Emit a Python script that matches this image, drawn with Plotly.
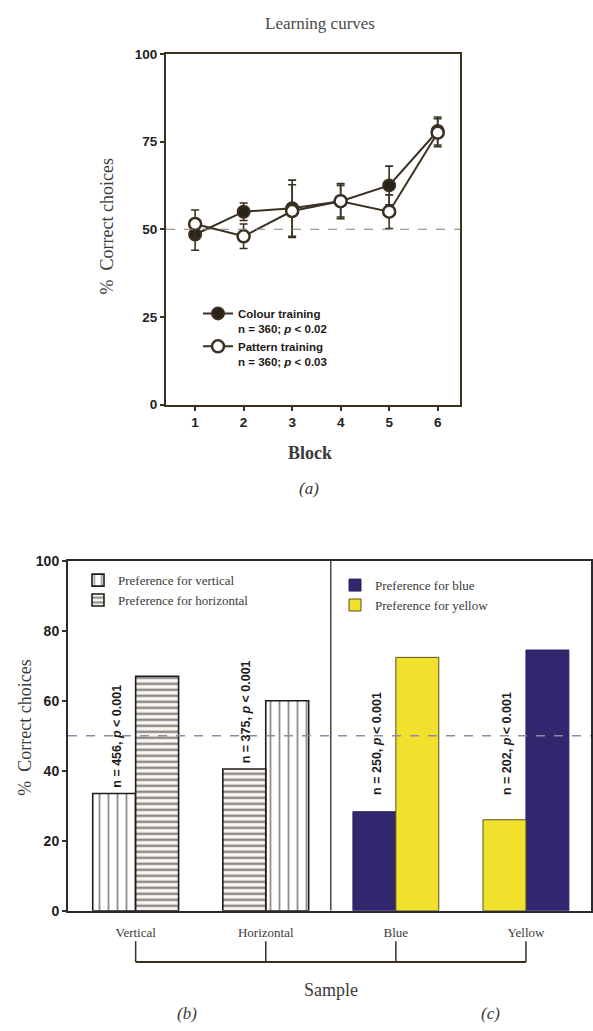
import plotly.graph_objects as go

# ---------------- data: panel (a) learning curves ----------------
blocks = [1, 2, 3, 4, 5, 6]
colour_mean = [48.5, 55.0, 56.0, 58.0, 62.5, 78.0]
colour_err = [4.5, 2.5, 8.0, 5.0, 5.5, 4.0]
pattern_mean = [51.5, 48.0, 55.2, 58.0, 55.0, 77.5]
pattern_err = [4.0, 3.5, 7.5, 4.5, 4.8, 4.0]
ticks_a = [0, 25, 50, 75, 100]
chance = 50

# ---------------- data: panels (b) and (c) ----------------
samples = ["Vertical", "Horizontal", "Blue", "Yellow"]
pattern_samples = ["Vertical", "Horizontal"]
colour_samples = ["Blue", "Yellow"]
pref_vertical = [33.5, 60.0]
pref_horizontal = [67.0, 40.5]
pref_blue = [28.3, 74.5]
pref_yellow = [72.4, 26.0]
n_values = [456, 375, 250, 202]
p_text = "0.001"
ticks_b = [0, 20, 40, 60, 80, 100]

W, H = 593, 1031
INK = "#3b3122"
TXT = "#3a3a3a"
NAVY = "#30276e"
YELLOW = "#f1e12c"
SERIF = "Liberation Serif"
SANS = "Liberation Sans"


def px_x(p):
    return p / W


def px_y(p):
    return 1 - p / H


fig = go.Figure()

# ---- panel (a) ----
fig.add_trace(go.Scatter(
    x=blocks, y=colour_mean, mode="lines+markers",
    name="Colour training<br>n = 360; <i>p</i> &lt; 0.02",
    line=dict(color=INK, width=2),
    marker=dict(symbol="circle", size=12, color="#2a2318", line=dict(color=INK, width=2)),
    error_y=dict(type="data", array=colour_err, color=INK, thickness=1.6, width=4),
    xaxis="x", yaxis="y", legend="legend",
))
fig.add_trace(go.Scatter(
    x=blocks, y=pattern_mean, mode="lines+markers",
    name="Pattern training<br>n = 360; <i>p</i> &lt; 0.03",
    line=dict(color=INK, width=2),
    marker=dict(symbol="circle", size=12, color="white", line=dict(color=INK, width=2.5)),
    error_y=dict(type="data", array=pattern_err, color=INK, thickness=1.6, width=4),
    xaxis="x", yaxis="y", legend="legend",
))

# ---- panels (b) and (c) ----
BW = 0.33
line_dark = dict(color="#1f1b18", width=1.6)
fig.add_trace(go.Bar(
    x=pattern_samples, y=pref_vertical, name="Preference for vertical",
    width=BW, offset=[-BW, 0],
    marker=dict(color="white", line=line_dark,
                pattern=dict(shape="|", size=9, solidity=0.2, fgcolor="#1f1b18", bgcolor="white")),
    xaxis="x2", yaxis="y2", legend="legend2",
))
fig.add_trace(go.Bar(
    x=pattern_samples, y=pref_horizontal, name="Preference for horizontal",
    width=BW, offset=[0, -BW],
    marker=dict(color="white", line=line_dark,
                pattern=dict(shape="-", size=6, solidity=0.42, fgcolor="#1f1a24", bgcolor="#fcf8f0")),
    xaxis="x2", yaxis="y2", legend="legend2",
))
fig.add_trace(go.Bar(
    x=colour_samples, y=pref_blue, name="Preference for blue",
    width=BW, offset=[-BW, 0],
    marker=dict(color=NAVY, line=dict(color="#2a2260", width=1)),
    xaxis="x2", yaxis="y2", legend="legend3",
))
fig.add_trace(go.Bar(
    x=colour_samples, y=pref_yellow, name="Preference for yellow",
    width=BW, offset=[0, -BW],
    marker=dict(color=YELLOW, line=dict(color="#5a5020", width=1)),
    xaxis="x2", yaxis="y2", legend="legend3",
))

shapes = []
shapes.append(dict(type="line", xref="x domain", yref="y", x0=0, x1=1, y0=chance, y1=chance,
                   line=dict(color="#8a8070", width=1.2, dash="dash")))
shapes.append(dict(type="line", xref="x2 domain", yref="y2", x0=0, x1=1, y0=chance, y1=chance,
                   line=dict(color="#8c8ca8", width=1.4, dash="dash")))
shapes.append(dict(type="line", xref="x2", yref="y2", x0=1.5, x1=1.5, y0=0, y1=100,
                   line=dict(color="#2a2a2a", width=1.3)))
y_top, y_bot = px_y(948), px_y(969)
for i in range(len(samples)):
    shapes.append(dict(type="line", xref="x2", yref="paper", x0=i, x1=i, y0=y_top, y1=y_bot,
                       line=dict(color=INK, width=1.5)))
shapes.append(dict(type="line", xref="x2", yref="paper", x0=0, x1=len(samples) - 1, y0=y_bot, y1=y_bot,
                   line=dict(color=INK, width=2)))

annotations = []
left_vals = [pref_vertical[0], pref_horizontal[1], pref_blue[0], pref_yellow[1]]
for i, (v, n) in enumerate(zip(left_vals, n_values)):
    annotations.append(dict(
        x=i - BW / 2, y=max(v + 1, 32.5), xref="x2", yref="y2",
        text=f"n = {n}, <i>p</i> &lt; {p_text}", textangle=-90, showarrow=False,
        xanchor="center", yanchor="bottom", xshift=2,
        font=dict(family=SANS, size=12.5, color="#1e1a16", weight="bold"),
    ))


def label(text, x, y, size=17, family=SERIF, color=TXT, angle=0):
    return dict(text=text, x=px_x(x), y=px_y(y), xref="paper", yref="paper",
                xanchor="center", yanchor="middle", textangle=angle, showarrow=False,
                font=dict(family=family, size=size, color=color))


annotations += [
    label("Learning curves", 320, 16, size=17, color="#4a4a4a"),
    label("%  Correct choices", 107, 222, size=18, angle=-90),
    label("<b>Block</b>", 310, 452, size=18),
    label("<i>(a)</i>", 309, 488, size=17),
    label("%  Correct choices", 25, 731, size=18, angle=-90),
    label("Sample", 331, 997, size=18),
    label("<i>(b)</i>", 187, 1021, size=17),
    label("<i>(c)</i>", 490, 1021, size=17),
]

tickfont_bold = dict(family=SANS, size=13.5, color="#222222", weight="bold")

fig.update_layout(
    width=W, height=H,
    margin=dict(l=0, r=0, t=0, b=0),
    paper_bgcolor="white", plot_bgcolor="white",
    barmode="overlay",
    shapes=shapes, annotations=annotations,
    xaxis=dict(domain=[px_x(166), px_x(460)], range=[0.4, 6.46], tickvals=blocks,
               showgrid=False, zeroline=False, showline=True, mirror=True,
               linecolor=INK, linewidth=2, ticks="outside", ticklen=4, tickwidth=1.5,
               tickcolor=INK, tickfont=tickfont_bold, anchor="y"),
    yaxis=dict(domain=[px_y(403), px_y(46.5)], range=[0, 100], tickvals=ticks_a,
               showgrid=False, zeroline=False, showline=True, mirror=True,
               linecolor=INK, linewidth=2, ticks="outside", ticklen=4, tickwidth=1.5,
               tickcolor=INK, tickfont=tickfont_bold, anchor="x"),
    xaxis2=dict(domain=[px_x(68), px_x(591)], range=[-0.52, 3.5], type="category",
                categoryorder="array", categoryarray=samples,
                showgrid=False, zeroline=False, showline=True, mirror=True,
                linecolor="#2b2830", linewidth=2, ticks="outside", ticklen=9,
                tickcolor="rgba(0,0,0,0)",
                tickfont=dict(family=SERIF, size=13, color=TXT), anchor="y2"),
    yaxis2=dict(domain=[px_y(917), px_y(561.5)], range=[0, 100], tickvals=ticks_b,
                showgrid=False, zeroline=False, showline=True, mirror=True,
                linecolor="#2b2830", linewidth=2, ticks="outside", ticklen=4, tickwidth=1.5,
                tickcolor=INK, tickfont=dict(family=SANS, size=14, color="#222222", weight="bold"),
                anchor="x2"),
    legend=dict(x=px_x(198), y=px_y(296), xanchor="left", yanchor="top",
                bgcolor="rgba(0,0,0,0)", valign="top", tracegroupgap=6,
                font=dict(family=SANS, size=11.5, color="#1e1a16", weight="bold")),
    legend2=dict(x=px_x(78), y=px_y(566), xanchor="left", yanchor="top",
                 bgcolor="rgba(0,0,0,0)", tracegroupgap=0,
                 font=dict(family=SERIF, size=13, color=TXT)),
    legend3=dict(x=px_x(335), y=px_y(571), xanchor="left", yanchor="top",
                 bgcolor="rgba(0,0,0,0)", tracegroupgap=0,
                 font=dict(family=SERIF, size=13, color=TXT)),
    showlegend=True,
)

fig.write_html(
    "out.html",
    config={"displayModeBar": False},
    post_script="document.body.style.margin='0';document.body.style.overflow='hidden';",
)
